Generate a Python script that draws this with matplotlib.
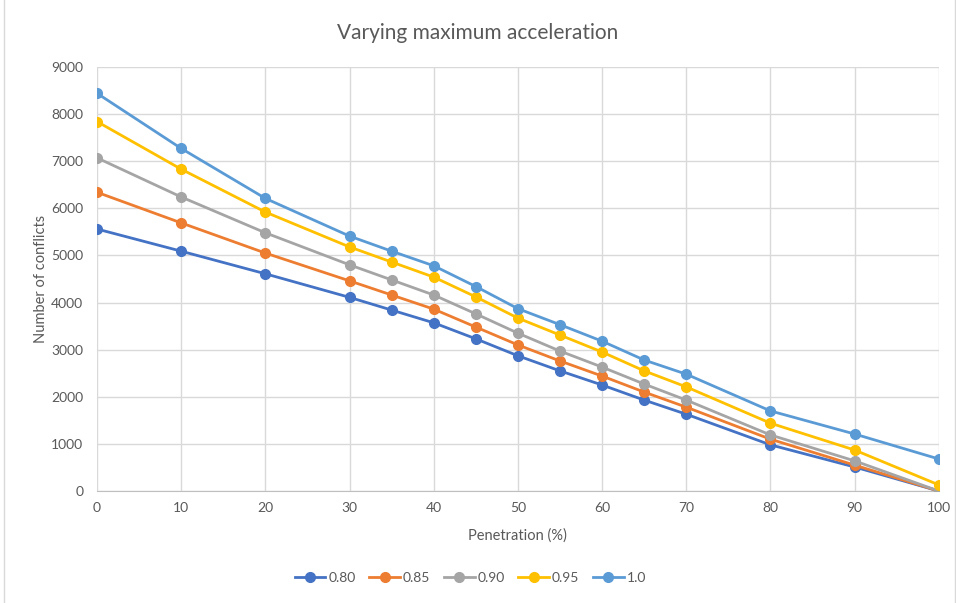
import matplotlib
matplotlib.use("Agg")
import matplotlib.pyplot as plt
from matplotlib.patches import Rectangle

penetration = [0, 10, 20, 30, 35, 40, 45, 50, 55, 60, 65, 70, 80, 90, 100]
acc_080 = [5560, 5090, 4610, 4110, 3840, 3570, 3230, 2870, 2550, 2250, 1930, 1630, 980, 510, 0]
acc_085 = [6340, 5690, 5050, 4460, 4160, 3860, 3480, 3100, 2760, 2440, 2100, 1780, 1100, 550, 0]
acc_090 = [7070, 6240, 5480, 4800, 4480, 4160, 3760, 3350, 2970, 2630, 2270, 1930, 1190, 640, 0]
acc_095 = [7840, 6830, 5920, 5180, 4860, 4540, 4120, 3670, 3310, 2950, 2550, 2210, 1440, 870, 130]
acc_100 = [8440, 7270, 6210, 5410, 5090, 4780, 4340, 3870, 3530, 3180, 2780, 2480, 1700, 1210, 680]
series_labels = ["0.80", "0.85", "0.90", "0.95", "1.0"]
colors = ["#4472C4", "#ED7D31", "#A5A5A5", "#FFC000", "#5B9BD5"]

plt.rcParams['font.family'] = ['Lato', 'DejaVu Sans']
txt = "#595959"

fig = plt.figure(figsize=(9.56, 6.03), dpi=100)
ax = fig.add_axes([0.1015, 0.1857, 0.8805, 0.7033])

for vals, lab, c in zip([acc_080, acc_085, acc_090, acc_095, acc_100], series_labels, colors):
    ax.plot(penetration, vals, color=c, lw=2.0, marker='o', markersize=7, label=lab, zorder=3)

ax.set_xlim(0, 100)
ax.set_ylim(0, 9000)
ax.set_xticks(range(0, 101, 10))
ax.set_yticks(range(0, 9001, 1000))
ax.grid(True, color="#D9D9D9", lw=1.0, zorder=0)
ax.set_axisbelow(True)
for s in ['top', 'right', 'left']:
    ax.spines[s].set_visible(False)
ax.spines['bottom'].set_color("#BFBFBF")
ax.tick_params(length=0, colors=txt, labelsize=10, pad=8)
ax.tick_params(axis='y', pad=10)

ax.set_xlabel("Penetration (%)", color=txt, fontsize=10.5, labelpad=10)
ax.set_ylabel("Number of conflicts", color=txt, fontsize=10.5, labelpad=2)
fig.text(0.5, 0.945, "Varying maximum acceleration", ha='center', va='center', color=txt, fontsize=15)

leg = fig.legend(loc='center', bbox_to_anchor=(0.492, 0.041), ncol=5, frameon=False,
                 fontsize=10, handlelength=2.2, handletextpad=0.2, columnspacing=1.0)
for t in leg.get_texts():
    t.set_color(txt)

fig.patches.append(Rectangle((0.004, -0.01), 0.995, 1.02, transform=fig.transFigure,
                             fill=False, edgecolor="#D9D9D9", lw=1))

fig.savefig("out.png", dpi=100)
